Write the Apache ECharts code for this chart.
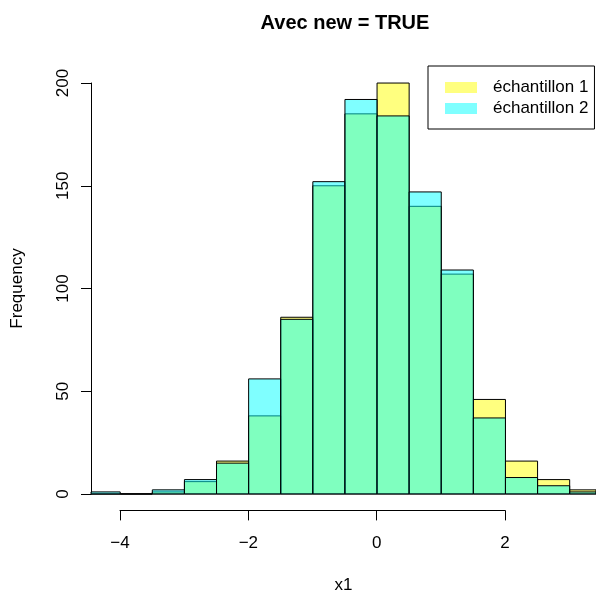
<!DOCTYPE html>
<html>
<head>
<meta charset="utf-8">
<script src="https://cdn.jsdelivr.net/npm/echarts@6/dist/echarts.min.js"></script>
<style>html,body{margin:0;padding:0;background:#fff}#c{width:596px;height:595px}</style>
</head>
<body>
<div id="c"></div>
<script>
const breaks = [-4.5,-4,-3.5,-3,-2.5,-2,-1.5,-1,-0.5,0,0.5,1,1.5,2,2.5,3,3.5];
const counts1 = [0,0,1,6,16,38,86,150,185,200,140,107,46,16,7,2];
const counts2 = [1,0,2,7,15,56,85,152,192,184,147,109,37,8,4,1];
const yTicks = [0,50,100,150,200];
const xTicks = [-4,-2,0,2];
const name1 = 'échantillon 1';
const name2 = 'échantillon 2';
const col1 = 'rgba(255,255,0,0.5)';
const col2 = 'rgba(0,255,255,0.5)';
const FONT = '"Liberation Sans", Arial, Helvetica, sans-serif';

function binData(counts){
  return counts.map((c,i)=>[breaks[i], breaks[i+1], c]);
}
function makeRender(fill){
  return function(params, api){
    const x0 = api.value(0), x1 = api.value(1), c = api.value(2);
    const p0 = api.coord([x0, c]);
    const p1 = api.coord([x1, 0]);
    let shape = {x:p0[0], y:p0[1], width:p1[0]-p0[0], height:p1[1]-p0[1]};
    const cs = params.coordSys;
    const clipped = echarts.graphic.clipRectByRect(shape, {x:cs.x, y:cs.y, width:cs.width, height:cs.height});
    if (!clipped) return;
    return {type:'rect', shape: clipped, style:{fill:fill, stroke:'#000', lineWidth:1}};
  };
}

const chart = echarts.init(document.getElementById('c'), null, {renderer:'canvas'});
const labelStyle = {fontSize:17, color:'#000', fontFamily:FONT};
chart.setOption({
  animation:false,
  backgroundColor:'#fff',
  textStyle:{fontFamily:FONT},
  graphic:[{type:'text', x:345, y:23, style:{text:'Avec new = TRUE', font:'bold 20px ' + FONT, fill:'#000', textAlign:'center', textVerticalAlign:'middle'}}],
  legend:{
    orient:'vertical', left:428, top:66,
    padding:[13,6,12,17], itemGap:4, itemWidth:32, itemHeight:11,
    borderColor:'#000', borderWidth:1, borderRadius:0,
    selectedMode:false, icon:'rect',
    textStyle:{fontSize:17, color:'#000', fontFamily:FONT, lineHeight:17, padding:[0,0,0,11]},
    data:[
      {name:name1, itemStyle:{color:col1, borderWidth:0}},
      {name:name2, itemStyle:{color:col2, borderWidth:0}}
    ]
  },
  grid:[
    {left:91, right:0, top:66.6, bottom:84.6, containLabel:false, outerBoundsMode:'none'},
    {left:91, top:83, bottom:101, width:1, containLabel:false, outerBoundsMode:'none'},
    {left:120, right:91, bottom:84.6, height:1, containLabel:false, outerBoundsMode:'none'}
  ],
  xAxis:[
    {gridIndex:0, type:'value', min:-4.455, max:3.41, axisLine:{show:false}, axisTick:{show:false}, axisLabel:{show:false}, splitLine:{show:false},
     name:'x1', nameLocation:'middle', nameGap:66, nameTextStyle:labelStyle},
    {gridIndex:1, type:'value', show:false},
    {gridIndex:2, type:'value', position:'bottom', min:xTicks[0], max:xTicks[xTicks.length-1], interval:2,
     axisLine:{lineStyle:{color:'#000', width:1}}, axisTick:{length:10, inside:false, lineStyle:{color:'#000'}},
     axisLabel:Object.assign({margin:24, formatter:v=>String(v).replace('-','\u2212')}, labelStyle), splitLine:{show:false}}
  ],
  yAxis:[
    {gridIndex:0, type:'value', min:-8, max:208, axisLine:{show:false}, axisTick:{show:false}, axisLabel:{show:false}, splitLine:{show:false},
     name:'Frequency', nameLocation:'middle', nameGap:65, nameTextStyle:labelStyle},
    {gridIndex:1, type:'value', position:'left', min:yTicks[0], max:yTicks[yTicks.length-1], interval:50,
     axisLine:{show:true, lineStyle:{color:'#000', width:1}}, axisTick:{show:true, length:10, inside:false, lineStyle:{color:'#000'}},
     axisLabel:Object.assign({rotate:90, margin:19}, labelStyle), splitLine:{show:false}},
    {gridIndex:2, type:'value', show:false}
  ],
  series:[
    {type:'custom', name:name1, xAxisIndex:0, yAxisIndex:0, renderItem:makeRender(col1), itemStyle:{color:col1, borderWidth:0}, encode:{x:[0,1], y:2}, data:binData(counts1)},
    {type:'custom', name:name2, xAxisIndex:0, yAxisIndex:0, renderItem:makeRender(col2), itemStyle:{color:col2, borderWidth:0}, encode:{x:[0,1], y:2}, data:binData(counts2)}
  ]
});
</script>
</body>
</html>
